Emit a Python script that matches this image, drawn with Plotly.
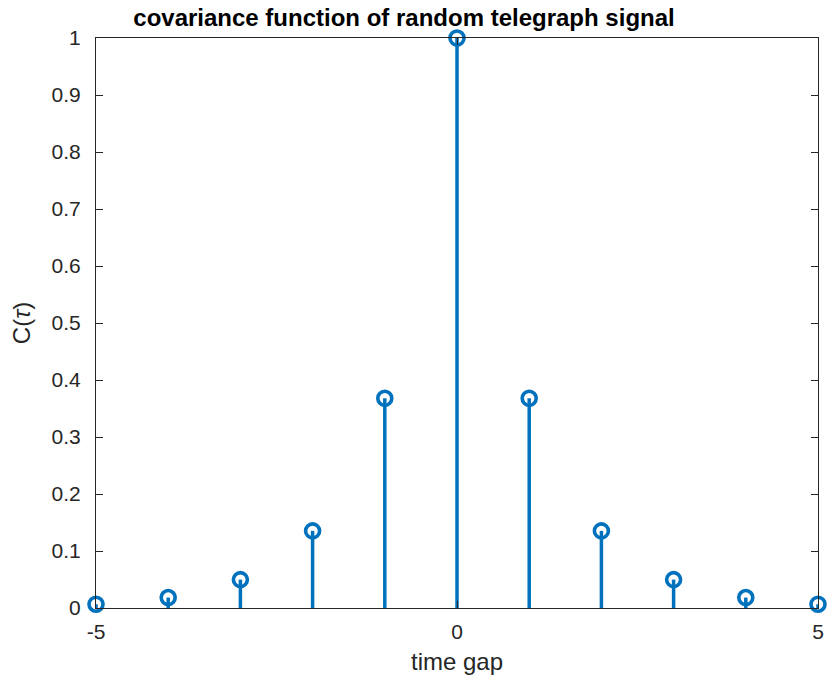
import plotly.graph_objects as go

tau = [-5, -4, -3, -2, -1, 0, 1, 2, 3, 4, 5]
cov = [0.0067, 0.0183, 0.0498, 0.1353, 0.3679, 1.0, 0.3679, 0.1353, 0.0498, 0.0183, 0.0067]
y_ticks = [0, 0.1, 0.2, 0.3, 0.4, 0.5, 0.6, 0.7, 0.8, 0.9, 1]
y_ticktext = ["0", "0.1", "0.2", "0.3", "0.4", "0.5", "0.6", "0.7", "0.8", "0.9", "1"]
x_ticks = [-5, 0, 5]
x_ticktext = ["-5", "0", "5"]

BLUE = "#0072BD"
AX = "#262626"
FONT = "Liberation Sans, Arial, Helvetica, sans-serif"

sx, sy = [], []
for t, c in zip(tau, cov):
    sx += [t, t, None]
    sy += [0, c, None]

fig = go.Figure()
fig.add_trace(go.Scatter(x=sx, y=sy, mode="lines", line=dict(color=BLUE, width=3.5),
                         hoverinfo="skip", showlegend=False, cliponaxis=False))
fig.add_trace(go.Scatter(x=tau, y=cov, mode="markers",
                         marker=dict(symbol="circle-open", size=14, color=BLUE,
                                     line=dict(width=3.6, color=BLUE)),
                         showlegend=False, cliponaxis=False))

axis_common = dict(showgrid=False, zeroline=False, showline=True, linecolor=AX, linewidth=1,
                   mirror="ticks", ticks="inside", ticklen=7, tickcolor=AX, tickwidth=1,
                   automargin=False,
                   tickfont=dict(family=FONT, size=21, color=AX))

fig.update_layout(
    width=828, height=680,
    margin=dict(l=96, r=10, t=37.5, b=72),
    paper_bgcolor="white", plot_bgcolor="white",
    font=dict(family=FONT, color=AX),
    title=dict(text="<b>covariance function of random telegraph signal</b>",
               x=404 / 828, xanchor="center", xref="container",
               y=1 - 18 / 680, yanchor="middle", yref="container",
               font=dict(family=FONT, size=24, color="black")),
    xaxis=dict(range=[-5, 5], tickvals=x_ticks, ticktext=x_ticktext,
               title=dict(text="time gap", font=dict(family=FONT, size=24, color=AX), standoff=10),
               ticklabelstandoff=5,
               **axis_common),
    yaxis=dict(range=[0, 1], tickvals=y_ticks, ticktext=y_ticktext,
               title=dict(text="C(<i>τ</i>)", font=dict(family=FONT, size=24, color=AX), standoff=14),
               ticklabelstandoff=10,
               **axis_common),
)

fig.write_html("out.html", config={"displayModeBar": False},
               post_script="document.body.style.margin='0';")
